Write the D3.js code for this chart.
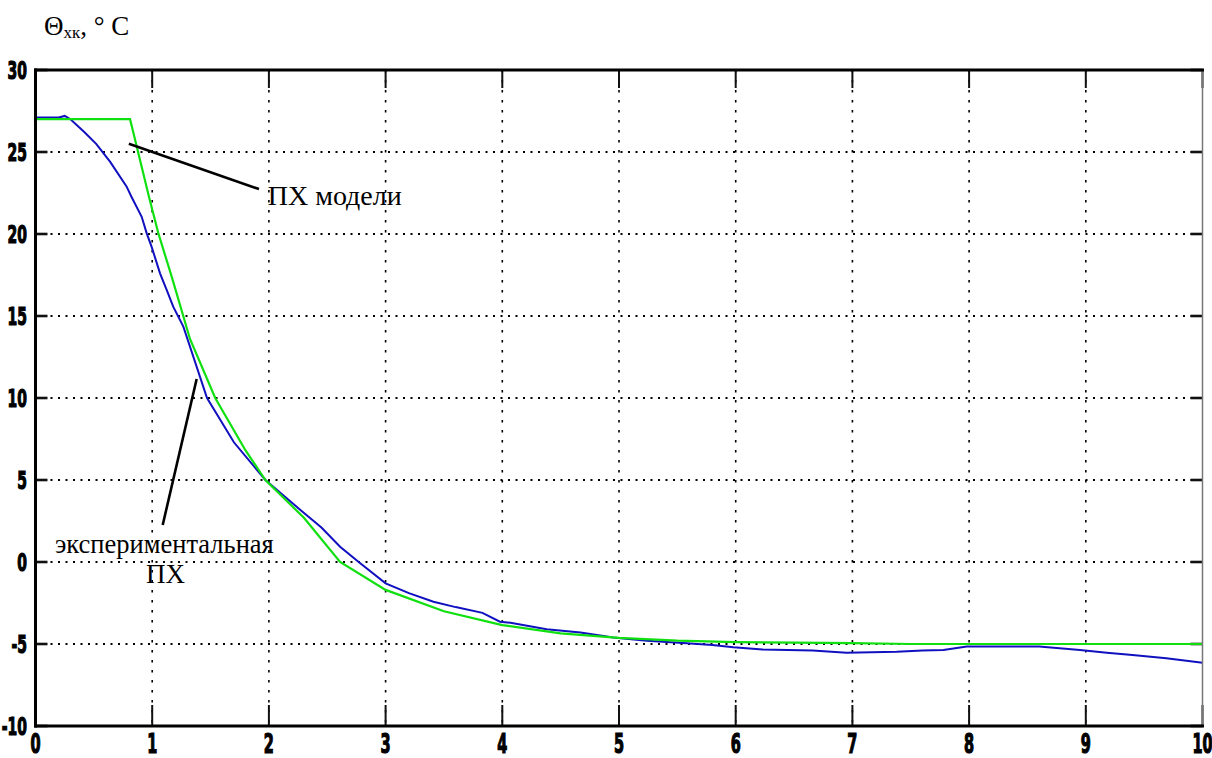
<!DOCTYPE html>
<html>
<head>
<meta charset="utf-8">
<script src="https://cdn.jsdelivr.net/npm/d3@7/dist/d3.min.js"></script>
<style>
  html, body { margin: 0; padding: 0; background: #fff; }
  svg { display: block; }
</style>
</head>
<body>
<svg id="chart" width="1212" height="758"></svg>
<script>
// ---- data ----
const xTicks = [0, 1, 2, 3, 4, 5, 6, 7, 8, 9, 10];
const yTicks = [-10, -5, 0, 5, 10, 15, 20, 25, 30];

// model step response (green)
const modelT = [0, 0.81, 0.833, 0.975, 1.052, 1.167, 1.324, 1.54, 1.8, 1.97, 2.3, 2.61, 3.0, 3.5, 4.0, 4.5, 5.0, 5.5, 6.0, 6.5, 7.0, 7.5, 8, 9, 10];
const modelY = [27, 27, 26.34, 22.2, 20.06, 17.4, 13.6, 10, 6.8, 5, 2.7, 0, -1.7, -3.0, -3.85, -4.35, -4.63, -4.8, -4.88, -4.92, -4.95, -5, -5, -5, -5];

// experimental step response (blue)
const expT = [0, 0.2, 0.25, 0.3, 0.42, 0.52, 0.64, 0.78, 0.82, 0.91, 0.953, 0.996, 1.067, 1.124, 1.18, 1.267, 1.47, 1.7, 1.97, 2.27, 2.45, 2.61, 2.78, 3.0, 3.2, 3.41, 3.6, 3.83, 3.98, 4.07, 4.38, 4.67, 4.95, 5.24, 5.58, 5.8, 5.98, 6.23, 6.66, 6.95, 7.38, 7.6, 7.78, 7.98, 8.3, 8.6, 8.95, 9.18, 9.4, 9.69, 10];
const expY = [27.1, 27.1, 27.2, 27.0, 26.2, 25.5, 24.4, 22.9, 22.3, 21.05, 20.04, 19.2, 17.6, 16.6, 15.57, 14.35, 10, 7.3, 5, 3.17, 2.1, 0.93, -0.06, -1.3, -1.9, -2.42, -2.75, -3.1, -3.64, -3.7, -4.1, -4.3, -4.6, -4.8, -4.96, -5.06, -5.2, -5.33, -5.4, -5.53, -5.47, -5.4, -5.37, -5.16, -5.15, -5.15, -5.37, -5.53, -5.67, -5.87, -6.15];

// annotations (data coordinates)
const annoModelLine = [[0.80, 25.5], [1.915, 22.74]];
const annoModelText = { t: 1.99, y: 21.77, text: "ПХ модели", size: 28 };
const annoExpLine = [[1.381, 11.16], [1.09, 2.26]];
const annoExpText1 = { t: 0.167, y: 0.55, text: "экспериментальная", size: 26.5 };
const annoExpText2 = { t: 0.947, y: -1.28, text: "ПХ", size: 27 };

// ---- drawing ----
const svg = d3.select("#chart");
svg.append("rect").attr("width", 1212).attr("height", 758).attr("fill", "#fff");

const pLeft = 35.5, pRight = 1202.5, pTop = 70, pBottom = 726;
const x = d3.scaleLinear().domain([0, 10]).range([pLeft, pRight]);
const y = d3.scaleLinear().domain([-10, 30]).range([pBottom, pTop]);

// grid
const grid = svg.append("g");
grid.selectAll("line.vg").data(xTicks.slice(1, -1)).join("line")
  .attr("x1", d => x(d)).attr("x2", d => x(d))
  .attr("y1", pTop).attr("y2", pBottom)
  .attr("stroke", "#000").attr("stroke-width", 1.6)
  .attr("stroke-dasharray", "2.5,7.5");
grid.selectAll("line.hg").data(yTicks.slice(1, -1)).join("line")
  .attr("x1", pLeft).attr("x2", pRight)
  .attr("y1", d => y(d)).attr("y2", d => y(d))
  .attr("stroke", "#000").attr("stroke-width", 1.8)
  .attr("stroke-dasharray", "2,5.5");

// ticks inside
const ticks = svg.append("g").attr("stroke", "#111").attr("stroke-width", 2);
ticks.selectAll("line.bt").data(xTicks).join("line")
  .attr("x1", d => x(d)).attr("x2", d => x(d))
  .attr("y1", pBottom).attr("y2", pBottom - 21);
ticks.selectAll("line.tt").data(xTicks).join("line")
  .attr("x1", d => x(d)).attr("x2", d => x(d))
  .attr("y1", pTop).attr("y2", pTop + 18);
ticks.selectAll("line.lt").data(yTicks).join("line")
  .attr("x1", pLeft).attr("x2", pLeft + 12)
  .attr("y1", d => y(d)).attr("y2", d => y(d)).attr("stroke-width", 2.6);
ticks.selectAll("line.rt").data(yTicks).join("line")
  .attr("x1", pRight).attr("x2", pRight - 12)
  .attr("y1", d => y(d)).attr("y2", d => y(d)).attr("stroke-width", 2.6);

// curves
const line = d3.line().x(d => x(d[0])).y(d => y(d[1]));
const expData = expT.map((t, i) => [t, expY[i]]);
const modelData = modelT.map((t, i) => [t, modelY[i]]);

svg.append("path").datum(expData).attr("d", line)
  .attr("fill", "none").attr("stroke", "#1010c0").attr("stroke-width", 2);
svg.append("path").datum(modelData).attr("d", line)
  .attr("fill", "none").attr("stroke", "#10e010").attr("stroke-width", 2.2);

// axes frame
svg.append("line").attr("x1", pRight).attr("x2", pRight).attr("y1", pTop).attr("y2", pBottom)
  .attr("stroke", "#777").attr("stroke-width", 1.5);
const frame = svg.append("g").attr("stroke", "#000").attr("stroke-width", 3).attr("stroke-linecap", "square");
frame.append("line").attr("x1", pLeft).attr("x2", pRight).attr("y1", pTop).attr("y2", pTop);
frame.append("line").attr("x1", pLeft).attr("x2", pRight).attr("y1", pBottom).attr("y2", pBottom);
frame.append("line").attr("x1", pLeft).attr("x2", pLeft).attr("y1", pTop).attr("y2", pBottom);

// tick labels
const tickFont = "'Liberation Sans Narrow', 'DejaVu Sans Condensed', sans-serif";
svg.append("g").selectAll("g").data(xTicks).join("g")
  .attr("transform", d => `translate(${x(d)},752.5)`)
  .append("text")
  .attr("transform", "scale(0.62,1)")
  .attr("text-anchor", "middle")
  .attr("font-family", tickFont).attr("font-weight", "bold").attr("font-size", 26)
  .attr("fill", "#000").attr("stroke", "#000").attr("stroke-width", 1.2)
  .text(d => d);
svg.append("g").selectAll("g").data(yTicks).join("g")
  .attr("transform", d => `translate(27,${y(d) + 9})`)
  .append("text")
  .attr("transform", "scale(0.62,1)")
  .attr("text-anchor", "end")
  .attr("font-family", tickFont).attr("font-weight", "bold").attr("font-size", 25)
  .attr("fill", "#000").attr("stroke", "#000").attr("stroke-width", 1.2)
  .text(d => d);

// title
const serif = "'Liberation Serif', 'DejaVu Serif', serif";
const title = svg.append("text").attr("x", 44).attr("y", 35)
  .attr("font-family", serif).attr("font-size", 27).attr("fill", "#000");
title.append("tspan").text("Θ");
title.append("tspan").attr("font-size", 17).attr("dy", 3).text("хк");
title.append("tspan").attr("dy", -3).text(", ° С");

// annotations
const anno = svg.append("g");
anno.append("line")
  .attr("x1", x(annoModelLine[0][0])).attr("y1", y(annoModelLine[0][1]))
  .attr("x2", x(annoModelLine[1][0])).attr("y2", y(annoModelLine[1][1]))
  .attr("stroke", "#000").attr("stroke-width", 2.6);
anno.append("line")
  .attr("x1", x(annoExpLine[0][0])).attr("y1", y(annoExpLine[0][1]))
  .attr("x2", x(annoExpLine[1][0])).attr("y2", y(annoExpLine[1][1]))
  .attr("stroke", "#000").attr("stroke-width", 2.6);
[annoModelText, annoExpText1, annoExpText2].forEach(a => {
  anno.append("text").attr("x", x(a.t)).attr("y", y(a.y))
    .attr("font-family", serif).attr("font-size", a.size).attr("fill", "#000")
    .text(a.text);
});
</script>
</body>
</html>
